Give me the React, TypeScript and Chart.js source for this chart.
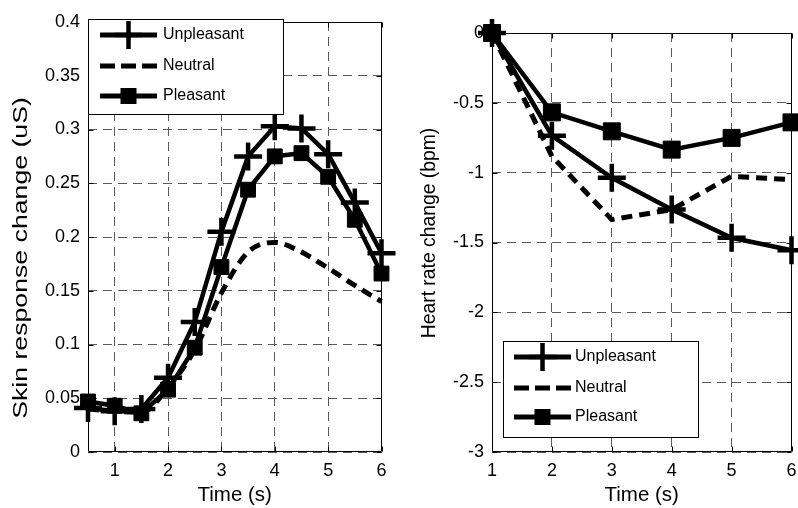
import React, { useEffect, useRef } from 'react';
import { Chart, registerables } from 'chart.js';

Chart.register(...registerables);

// ---------- data ----------
const SERIES_NAMES = ['Unpleasant', 'Neutral', 'Pleasant'];

const SKIN_TIME = [0.5, 1, 1.5, 2, 2.5, 3, 3.5, 4, 4.5, 5, 5.5, 6];
const SKIN_UNPLEASANT = [0.041, 0.038, 0.04, 0.069, 0.121, 0.205, 0.275, 0.303, 0.301, 0.277, 0.232, 0.185];
const SKIN_NEUTRAL = [0.04, 0.038, 0.037, 0.06, 0.095, 0.148, 0.186, 0.195, 0.186, 0.171, 0.155, 0.14];
const SKIN_PLEASANT = [0.047, 0.043, 0.036, 0.058, 0.097, 0.172, 0.244, 0.275, 0.278, 0.256, 0.216, 0.166];

const HR_TIME = [1, 2, 3, 4, 5, 6];
const HR_UNPLEASANT = [0, -0.735, -1.037, -1.264, -1.466, -1.555];
const HR_NEUTRAL = [0, -0.883, -1.336, -1.264, -1.026, -1.05];
const HR_PLEASANT = [0, -0.568, -0.704, -0.835, -0.751, -0.64];

const SKIN_X_TICKS = [1, 2, 3, 4, 5, 6];
const SKIN_Y_TICKS = [0, 0.05, 0.1, 0.15, 0.2, 0.25, 0.3, 0.35, 0.4];
const SKIN_Y_LABELS = ['0', '0.05', '0.1', '0.15', '0.2', '0.25', '0.3', '0.35', '0.4'];
const HR_X_TICKS = [1, 2, 3, 4, 5, 6];
const HR_Y_TICKS = [-3, -2.5, -2, -1.5, -1, -0.5, 0];
const HR_Y_LABELS = ['-3', '-2.5', '-2', '-1.5', '-1', '-0.5', '0'];

const X_TITLE = 'Time (s)';
const SKIN_Y_TITLE = 'Skin response change (uS)';
const HR_Y_TITLE = 'Heart rate change (bpm)';

const FONT = '"Liberation Sans", Arial, Helvetica, sans-serif';

// ---------- helpers ----------
function makeDatasets(xs: number[], un: number[], ne: number[], pl: number[], smooth: boolean, sqR: number) {
  const pts = (ys: number[]) => xs.map((x, i) => ({ x, y: ys[i] }));
  return [
    {
      label: SERIES_NAMES[0],
      data: pts(un),
      borderColor: '#000',
      borderWidth: 4.5,
      pointStyle: 'cross',
      pointRadius: 14,
      pointBorderWidth: 4.5,
      pointBorderColor: '#000',
      pointBackgroundColor: '#000',
      tension: 0,
      clip: false,
    },
    {
      label: SERIES_NAMES[1],
      data: pts(ne),
      borderColor: '#000',
      borderWidth: 5,
      borderDash: [11, 7],
      pointRadius: 0,
      cubicInterpolationMode: smooth ? 'monotone' : 'default',
      tension: 0,
      clip: false,
    },
    {
      label: SERIES_NAMES[2],
      data: pts(pl),
      borderColor: '#000',
      borderWidth: 4.5,
      pointStyle: 'rect',
      pointRadius: sqR,
      pointBorderWidth: 1,
      pointBorderColor: '#000',
      pointBackgroundColor: '#000',
      tension: 0,
      clip: false,
    },
  ];
}

type DecorCfg = {
  yTitle: { text: string; cx: number; cy: number; size: number; stretch: number };
  legend: { x: number; y: number; w: number; h: number; rows: number[]; x0: number; x1: number; textX: number };
};

function makeDecor(cfg: DecorCfg) {
  return {
    id: 'decor',
    beforeDatasetsDraw(chart: any) {
      const { ctx, chartArea: a, scales } = chart;
      ctx.save();
      ctx.strokeStyle = '#000';
      ctx.lineWidth = 1;
      ctx.setLineDash([]);
      const L = Math.round(a.left) + 0.5;
      const R = Math.round(a.right) - 0.5;
      const T = Math.round(a.top) + 0.5;
      const B = Math.round(a.bottom) - 0.5;
      ctx.beginPath();
      ctx.rect(L, T, R - L, B - T);
      ctx.stroke();
      const tl = 5;
      ctx.beginPath();
      scales.x.ticks.forEach((t: any) => {
        const px = Math.round(scales.x.getPixelForValue(t.value)) + 0.5;
        ctx.moveTo(px, B);
        ctx.lineTo(px, B - tl);
        ctx.moveTo(px, T);
        ctx.lineTo(px, T + tl);
      });
      scales.y.ticks.forEach((t: any) => {
        const py = Math.round(scales.y.getPixelForValue(t.value)) + 0.5;
        ctx.moveTo(L, py);
        ctx.lineTo(L + tl, py);
        ctx.moveTo(R, py);
        ctx.lineTo(R - tl, py);
      });
      ctx.stroke();
      ctx.restore();
    },
    afterDraw(chart: any) {
      const { ctx } = chart;
      // y title
      const yt = cfg.yTitle;
      ctx.save();
      ctx.translate(yt.cx, yt.cy);
      ctx.rotate(-Math.PI / 2);
      ctx.scale(yt.stretch, 1);
      ctx.font = `${yt.size}px ${FONT}`;
      ctx.fillStyle = '#000';
      ctx.textAlign = 'center';
      ctx.textBaseline = 'middle';
      ctx.fillText(yt.text, 0, 0);
      ctx.restore();

      // legend
      const lg = cfg.legend;
      ctx.save();
      ctx.fillStyle = '#fff';
      ctx.fillRect(lg.x, lg.y, lg.w, lg.h);
      ctx.strokeStyle = '#000';
      ctx.lineWidth = 1;
      ctx.strokeRect(lg.x + 0.5, lg.y + 0.5, lg.w, lg.h);
      chart.data.datasets.forEach((ds: any, i: number) => {
        const cy = lg.y + lg.rows[i];
        const x0 = lg.x + lg.x0;
        const x1 = lg.x + lg.x1;
        const mx = (x0 + x1) / 2;
        ctx.strokeStyle = '#000';
        ctx.fillStyle = '#000';
        ctx.lineWidth = 5;
        ctx.setLineDash(ds.borderDash ? [15, 6] : []);
        ctx.beginPath();
        ctx.moveTo(x0, cy);
        ctx.lineTo(x1, cy);
        ctx.stroke();
        ctx.setLineDash([]);
        if (ds.pointStyle === 'cross') {
          ctx.lineWidth = 4.5;
          ctx.beginPath();
          ctx.moveTo(mx - 14, cy);
          ctx.lineTo(mx + 14, cy);
          ctx.moveTo(mx, cy - 14);
          ctx.lineTo(mx, cy + 14);
          ctx.stroke();
        } else if (ds.pointStyle === 'rect') {
          ctx.fillRect(mx - 8, cy - 8, 16, 16);
        }
        ctx.font = `16px ${FONT}`;
        ctx.textAlign = 'left';
        ctx.textBaseline = 'middle';
        ctx.fillText(ds.label, lg.x + lg.textX, cy);
      });
      ctx.restore();
    },
  };
}

function makeConfig(opts: {
  datasets: any[];
  xMin: number; xMax: number; yMin: number; yMax: number;
  xTicks: number[]; yTicks: number[]; yLabels: string[];
  padding: { left: number; top: number; right: number; bottom: number };
  yWidth: number; xHeight: number;
  decor: DecorCfg;
}): any {
  return {
    type: 'line',
    data: { datasets: opts.datasets },
    plugins: [makeDecor(opts.decor)],
    options: {
      responsive: false,
      animation: false,
      events: [],
      layout: { padding: opts.padding },
      plugins: { legend: { display: false }, tooltip: { enabled: false } },
      scales: {
        x: {
          type: 'linear',
          min: opts.xMin,
          max: opts.xMax,
          afterBuildTicks: (s: any) => { s.ticks = opts.xTicks.map((v) => ({ value: v })); },
          afterFit: (s: any) => { s.height = opts.xHeight; },
          grid: { color: '#5a5a5a', lineWidth: 1, drawTicks: false },
          border: { display: false, dash: [9, 6] },
          ticks: {
            padding: 8,
            autoSkip: false,
            maxRotation: 0,
            color: '#000',
            font: { family: FONT, size: 18 },
            callback: (v: any) => String(v),
          },
          title: {
            display: true,
            text: X_TITLE,
            color: '#000',
            font: { family: FONT, size: 20.5 },
            padding: { top: 0, bottom: 0 },
          },
        },
        y: {
          type: 'linear',
          min: opts.yMin,
          max: opts.yMax,
          afterBuildTicks: (s: any) => { s.ticks = opts.yTicks.map((v) => ({ value: v })); },
          afterFit: (s: any) => { s.width = opts.yWidth; },
          grid: { color: '#5a5a5a', lineWidth: 1, drawTicks: false },
          border: { display: false, dash: [9, 6] },
          ticks: {
            padding: 8,
            autoSkip: false,
            color: '#000',
            font: { family: FONT, size: 18 },
            callback: (_v: any, i: number) => opts.yLabels[i],
          },
        },
      },
    },
  };
}

export default function App() {
  const leftRef = useRef<HTMLCanvasElement | null>(null);
  const rightRef = useRef<HTMLCanvasElement | null>(null);

  useEffect(() => {
    const left = new Chart(leftRef.current as HTMLCanvasElement, makeConfig({
      datasets: makeDatasets(SKIN_TIME, SKIN_UNPLEASANT, SKIN_NEUTRAL, SKIN_PLEASANT, true, 10.5),
      xMin: 0.5, xMax: 6, yMin: 0, yMax: 0.4,
      xTicks: SKIN_X_TICKS, yTicks: SKIN_Y_TICKS, yLabels: SKIN_Y_LABELS,
      padding: { left: 0, top: 22, right: 16, bottom: 0 },
      yWidth: 88, xHeight: 56,
      decor: {
        yTitle: { text: SKIN_Y_TITLE, cx: 21, cy: 258, size: 21, stretch: 1.27 },
        legend: { x: 88, y: 19, w: 195, h: 95, rows: [16, 47, 77], x0: 12, x1: 69, textX: 75 },
      },
    }));
    const right = new Chart(rightRef.current as HTMLCanvasElement, makeConfig({
      datasets: makeDatasets(HR_TIME, HR_UNPLEASANT, HR_NEUTRAL, HR_PLEASANT, false, 12),
      xMin: 1, xMax: 6, yMin: -3, yMax: 0,
      xTicks: HR_X_TICKS, yTicks: HR_Y_TICKS, yLabels: HR_Y_LABELS,
      padding: { left: 0, top: 33, right: 16, bottom: 0 },
      yWidth: 92, xHeight: 56,
      decor: {
        yTitle: { text: HR_Y_TITLE, cx: 29, cy: 233, size: 21, stretch: 0.92 },
        legend: { x: 103, y: 341, w: 195, h: 96, rows: [16, 47, 76], x0: 11, x1: 68, textX: 72 },
      },
    }));
    return () => {
      left.destroy();
      right.destroy();
    };
  }, []);

  return (
    <div style={{ position: 'absolute', left: 0, top: 0, width: 798, height: 508, overflow: 'hidden', background: '#fff' }}>
      <canvas ref={leftRef} width={400} height={508} style={{ position: 'absolute', left: 0, top: 0, width: 400, height: 508 }} />
      <canvas ref={rightRef} width={410} height={508} style={{ position: 'absolute', left: 400, top: 0, width: 410, height: 508 }} />
    </div>
  );
}
